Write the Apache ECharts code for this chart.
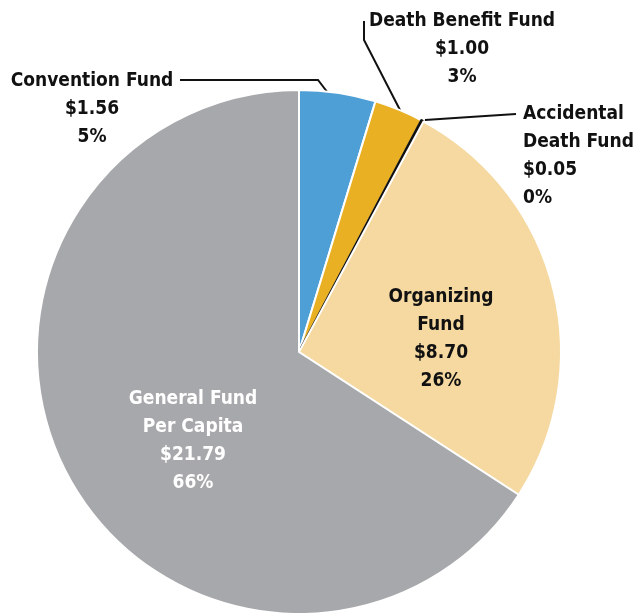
<!DOCTYPE html>
<html>
<head>
<meta charset="utf-8">
<script src="https://cdn.jsdelivr.net/npm/echarts@6/dist/echarts.min.js"></script>
<style>
  html, body { margin: 0; padding: 0; background: #fff; }
  #chart { width: 634px; height: 613px; }
</style>
</head>
<body>
<div id="chart"></div>
<script>
// Per-capita fund split, clockwise from 12 o'clock
const fundNames = ['Convention Fund', 'Death Benefit Fund', 'Accidental\nDeath Fund', 'Organizing\nFund', 'General Fund\nPer Capita'];
const fundAmounts = [1.56, 1.00, 0.05, 8.70, 21.79];
const fundColors = ['#4f9fd7', '#e9b023', '#111111', '#f5d9a0', '#a7a8ab'];

// Where each label block sits and how its leader line runs (null = no line)
const labelSpots = [
  { x: 92, y: 67, align: 'center', line: [[328, 93], [318, 80], [180, 80]] },
  { x: 462, y: 7, align: 'center', line: [[400, 110], [364, 40], [364, 21]] },
  { x: 523, y: 100, align: 'left', line: [[425, 120], [470, 117], [516, 114]] },
  { x: 441, y: 283, align: 'center', line: null },
  { x: 193, y: 385, align: 'center', line: null }
];
const labelColors = ['#111', '#111', '#111', '#111', '#fff'];

const FONT = '"DejaVu Sans Condensed", "Liberation Sans Narrow", "Roboto", sans-serif';

const chart = echarts.init(document.getElementById('chart'), null, { renderer: 'canvas' });

chart.setOption({
  backgroundColor: '#ffffff',
  animation: false,
  series: [{
    type: 'pie',
    center: [299, 352],
    radius: 262,
    startAngle: 90,
    clockwise: true,
    avoidLabelOverlap: false,
    itemStyle: { borderColor: '#ffffff', borderWidth: 2 },
    label: {
      show: true,
      position: 'outside',
      fontFamily: FONT,
      fontWeight: 'bold',
      fontSize: 19,
      lineHeight: 28,
      formatter: p => p.name + '\n$' + p.value.toFixed(2) + '\n' + Math.round(p.percent) + '%'
    },
    labelLine: { show: true, lineStyle: { color: '#111', width: 2 } },
    labelLayout: p => {
      const s = labelSpots[p.dataIndex];
      const out = { x: s.x, y: s.y, align: s.align, verticalAlign: 'top' };
      if (s.line) out.labelLinePoints = s.line;
      return out;
    },
    data: fundNames.map((n, i) => ({
      name: n,
      value: fundAmounts[i],
      itemStyle: i === 2
        ? { color: fundColors[i], borderColor: fundColors[i], borderWidth: 2.5 }
        : { color: fundColors[i] },
      label: { color: labelColors[i] },
      labelLine: { show: labelSpots[i].line !== null }
    }))
  }]
});
</script>
</body>
</html>
